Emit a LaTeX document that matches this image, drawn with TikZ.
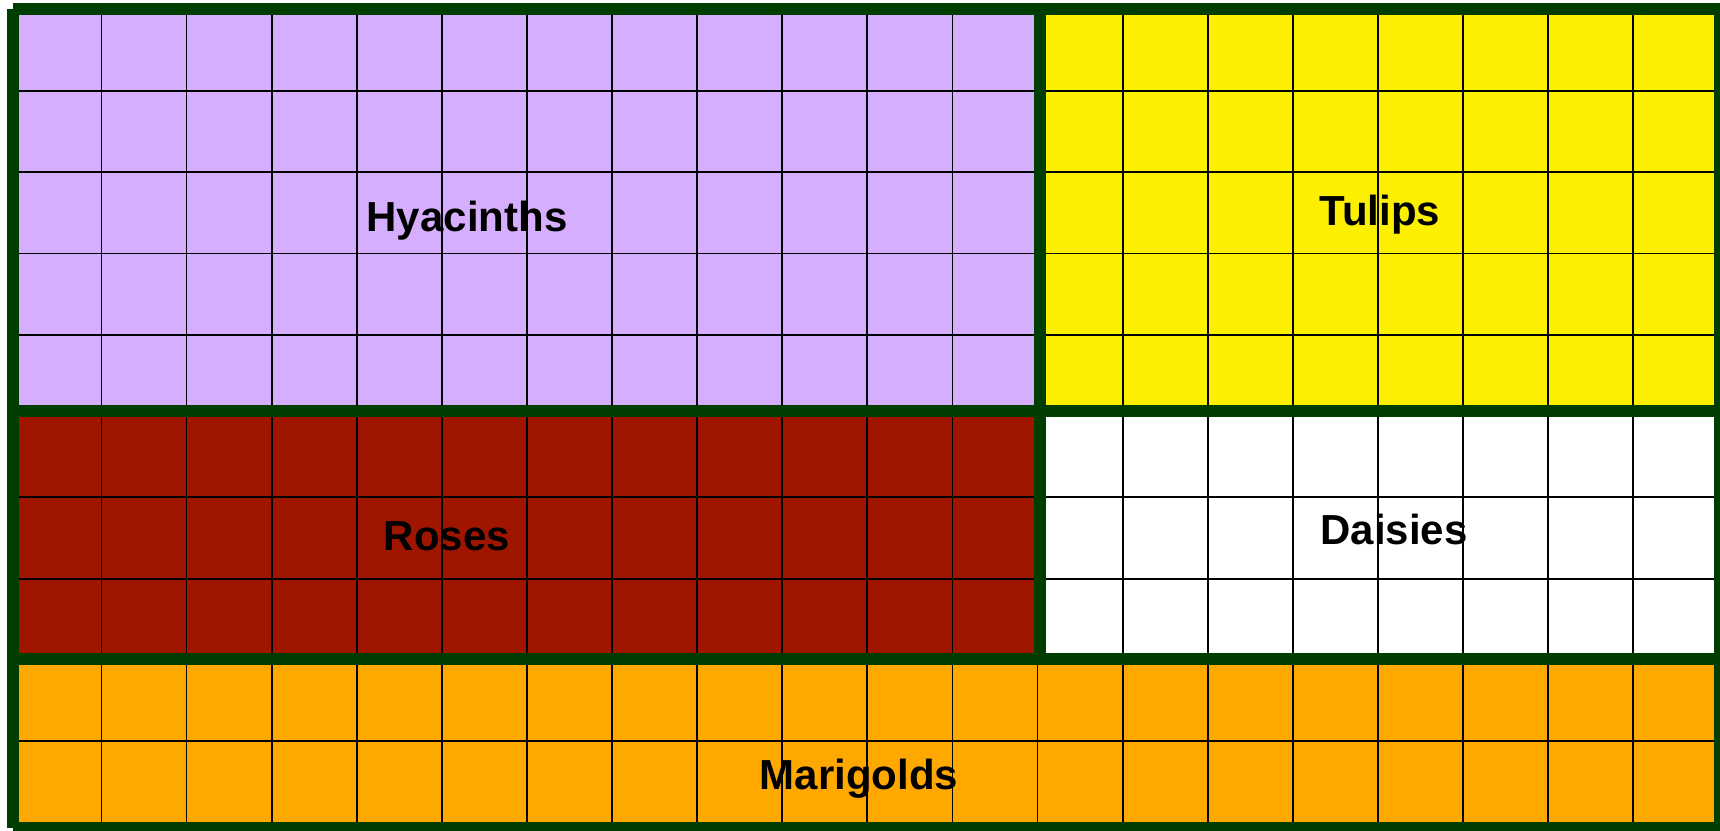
\documentclass[tikz,border=0pt]{standalone}
\usepackage{fontspec}
\setmainfont{Liberation Sans}
\definecolor{hyac}{RGB}{214,174,254}
\definecolor{tul}{RGB}{252,240,0}
\definecolor{ros}{RGB}{160,21,0}
\definecolor{mari}{RGB}{255,168,0}
\definecolor{framegreen}{RGB}{0,61,0}
\newcommand\colx[1]{16.3+85.1*#1}
\newcommand\rowy[1]{9.5+81.3*#1}
\newcommand\flowerregion[5]{%
  \fill[#5] ({\colx{#1}},{\rowy{#2}}) rectangle ({\colx{#3}},{\rowy{#4}});
  \foreach \c in {#1,...,#3} {\draw[cellgrid] ({\colx{\c}},{\rowy{#2}}) -- ({\colx{\c}},{\rowy{#4}});}
  \foreach \r in {#2,...,#4} {\draw[cellgrid] ({\colx{#1}},{\rowy{\r}}) -- ({\colx{#3}},{\rowy{\r}});}
}
\begin{document}
\begin{tikzpicture}[x=1pt,y=-1pt,
  cellgrid/.style={draw=black,line width=1.8pt},
  frameline/.style={draw=framegreen,line width=12pt,line cap=butt},
  lbl/.style={font=\fontsize{42}{50}\selectfont\bfseries,anchor=base,inner sep=0pt,text=black}]
\useasboundingbox (0,0) rectangle (1720,830);
\fill[white] (0,0) rectangle (1720,830);
% regions
\flowerregion{0}{0}{12}{5}{hyac}
\flowerregion{12}{0}{20}{5}{tul}
\flowerregion{0}{5}{12}{8}{ros}
\flowerregion{12}{5}{20}{8}{white}
\flowerregion{0}{8}{20}{10}{mari}
% green frame and dividers
\coordinate (tl) at (13,9);
\coordinate (tr) at (1720,9);
\coordinate (bl) at (13,828);
\coordinate (br) at (1720,828);
\coordinate (ml) at (13,411);
\coordinate (mr) at (1720,411);
\coordinate (ll) at (13,659);
\coordinate (lr) at (1720,659);
\coordinate (vt) at (1039.5,9);
\coordinate (vb) at (1039.5,659);
\draw[frameline] (tl) -- (tr);
\draw[frameline] (tl) -- (bl);
\draw[frameline] (bl) -- (br);
\draw[frameline] (tr) -- (br);
\draw[frameline] (ml) -- (mr);
\draw[frameline] (ll) -- (lr);
\draw[frameline] (vt) -- (vb);
% labels
\node[lbl] (hyacinths) at (467,231.5) {Hyacinths};
\node[lbl] (tulips) at (1380,225.5) {Tulips};
\node[lbl] (roses) at (447,550) {Roses};
\node[lbl] (daisies) at (1394,544) {Daisies};
\node[lbl] (marigolds) at (859,789) {Marigolds};
\end{tikzpicture}
\end{document}
